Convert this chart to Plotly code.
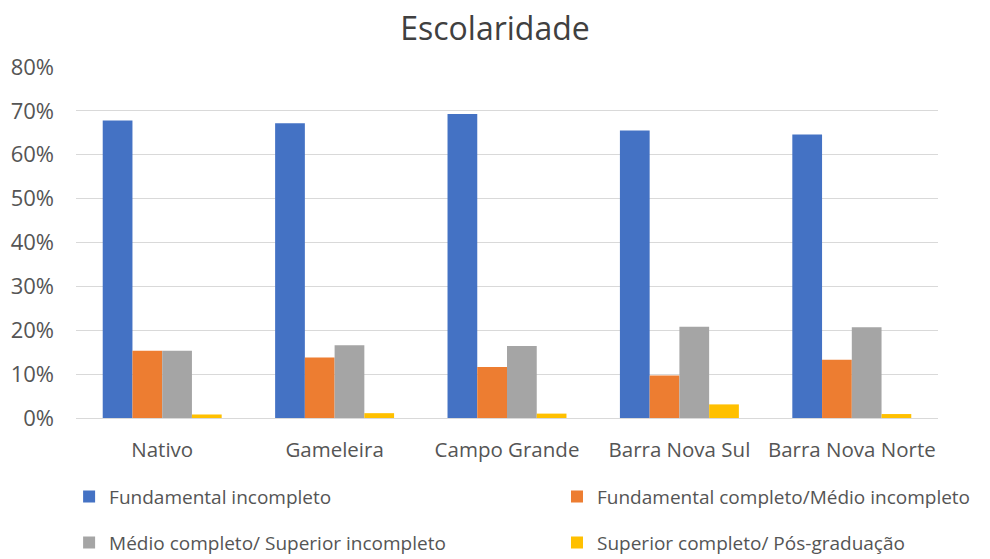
import plotly.graph_objects as go

categories = ["Nativo", "Gameleira", "Campo Grande", "Barra Nova Sul", "Barra Nova Norte"]
series_names = [
    "Fundamental incompleto",
    "Fundamental completo/Médio incompleto",
    "Médio completo/ Superior incompleto",
    "Superior completo/ Pós-graduação",
]
fund_incompleto = [0.678, 0.672, 0.693, 0.655, 0.646]
fund_completo = [0.153, 0.138, 0.116, 0.097, 0.133]
medio_completo = [0.153, 0.166, 0.164, 0.208, 0.207]
superior_completo = [0.008, 0.011, 0.010, 0.031, 0.009]
y_ticks = [0, 0.1, 0.2, 0.3, 0.4, 0.5, 0.6, 0.7, 0.8]
y_tick_labels = ["0%", "10%", "20%", "30%", "40%", "50%", "60%", "70%", "80%"]

colors = ["#4472C4", "#ED7D31", "#A5A5A5", "#FFC000"]
values = [fund_incompleto, fund_completo, medio_completo, superior_completo]
legend_ids = ["legend", "legend2", "legend3", "legend4"]

FONT = "Open Sans"
TXT = "#555555"

fig = go.Figure()
for name, vals, col, lg in zip(series_names, values, colors, legend_ids):
    fig.add_trace(go.Bar(x=categories, y=vals, name=name, marker_color=col,
                         marker_line_width=0, legend=lg))

legend_pos = [(-0.008, -0.224), (0.558, -0.224), (-0.008, -0.355), (0.558, -0.355)]
leg_layout = {}
for lg, (lx, ly) in zip(legend_ids, legend_pos):
    leg_layout[lg] = dict(x=lx, y=ly, xanchor="left", yanchor="middle",
                          orientation="h", bgcolor="rgba(0,0,0,0)",
                          font=dict(family=FONT, size=19, color=TXT),
                          itemwidth=30)

fig.update_layout(
    width=990, height=559,
    margin=dict(l=76, r=52, t=67, b=141, autoexpand=False),
    paper_bgcolor="white", plot_bgcolor="white",
    title=dict(text="Escolaridade", x=0.5, xanchor="center", y=0.948, yanchor="middle",
               font=dict(family=FONT, size=32, color="#404040")),
    barmode="group", bargap=0.31, bargroupgap=0,
    showlegend=True,
    **leg_layout,
)
fig.update_xaxes(showgrid=False, showline=True, linecolor="#D9D9D9", linewidth=1,
                 ticks="", ticklabelstandoff=13, automargin=False,
                 tickfont=dict(family=FONT, size=20.5, color=TXT))
fig.update_yaxes(range=[0, 0.8], tickvals=y_ticks, ticktext=y_tick_labels,
                 showgrid=True, gridcolor="#D9D9D9", gridwidth=1, zeroline=False,
                 ticks="", ticklabelstandoff=21, automargin=False,
                 tickfont=dict(family=FONT, size=22, color=TXT))

fig.write_html("out.html", config={"displayModeBar": False},
               post_script="document.body.style.margin='0px';")
